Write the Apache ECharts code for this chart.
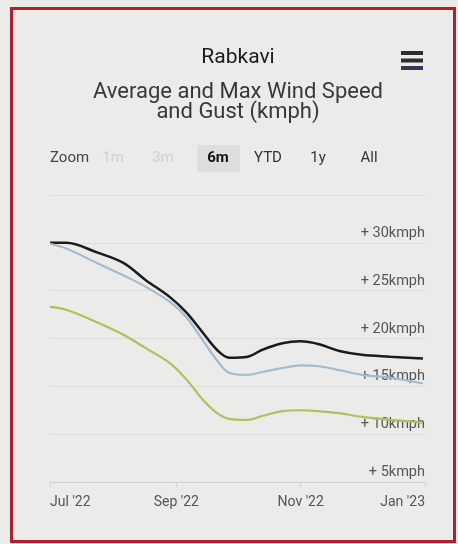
<!DOCTYPE html>
<html>
<head>
<meta charset="utf-8">
<script src="https://cdn.jsdelivr.net/npm/echarts@6/dist/echarts.min.js"></script>
<style>
html, body { margin: 0; padding: 0; background: #ebebe9; }
#chart { width: 458px; height: 544px; }
</style>
</head>
<body>
<div id="chart"></div>
<script>
var dates = ['2022-07-01', '2022-07-09', '2022-07-24', '2022-08-06', '2022-08-17', '2022-08-29',
	'2022-09-06', '2022-09-14', '2022-09-21', '2022-09-27', '2022-10-06', '2022-10-13',
	'2022-10-23', '2022-11-01', '2022-11-10', '2022-11-20', '2022-12-01', '2022-12-15', '2022-12-31'];
var maxGust = [30.0, 30.0, 29.0, 27.9, 26.1, 24.3, 22.7, 20.6, 18.8, 18.0, 18.1, 18.8, 19.5, 19.7, 19.4, 18.7, 18.3, 18.1, 17.9];
var maxWind = [29.9, 29.4, 27.9, 26.6, 25.4, 23.8, 22.2, 19.8, 17.7, 16.4, 16.2, 16.5, 16.9, 17.2, 17.1, 16.7, 16.2, 15.9, 15.3];
var avgWind = [23.3, 23.0, 21.7, 20.4, 19.0, 17.4, 15.7, 13.6, 12.2, 11.6, 11.5, 11.9, 12.4, 12.5, 12.4, 12.2, 11.8, 11.5, 11.2];

var xTickDates = ['2022-07-01', '2022-09-01', '2022-11-01', '2023-01-01'];
var xTickLabels = ["Jul '22", "Sep '22", "Nov '22", "Jan '23"];
var zoomButtons = ['1m', '3m', '6m', 'YTD', '1y', 'All'];

function ts(s) {
	return echarts.number.parseDate(s).getTime();
}
var xTicks = xTickDates.map(ts);

function pairs(values) {
	return values.map(function(v, i) {
		return [ts(dates[i]), v];
	});
}

function line(name, data, color, width) {
	return {
		name: name,
		type: 'line',
		smooth: 0.35,
		showSymbol: false,
		data: pairs(data),
		lineStyle: { color: color, width: width },
		itemStyle: { color: color }
	};
}

// range selector row
var btnX = [113, 163, 218, 268, 318, 369];
var zoomRow = [{
	type: 'text', x: 50, y: 158,
	style: { text: 'Zoom', font: '15px Roboto', fill: '#444', verticalAlign: 'middle' }
}, {
	type: 'rect', shape: { x: 197, y: 145, width: 43, height: 27 },
	style: { fill: '#dededc' }
}];
zoomButtons.forEach(function(label, i) {
	var faded = i < 2;
	zoomRow.push({
		type: 'text', x: btnX[i], y: 158,
		style: {
			text: label,
			font: (i === 2 ? 'bold ' : '') + '15px Roboto',
			fill: faded ? '#d0d0ce' : (i === 2 ? '#111' : '#333'),
			align: 'center', verticalAlign: 'middle'
		}
	});
});

var chart = echarts.init(document.getElementById('chart'));
chart.setOption({
	backgroundColor: '#ebebe9',
	animation: false,
	title: [{
		text: 'Rabkavi',
		left: 233, top: 42, textAlign: 'center',
		textStyle: { fontFamily: 'Roboto', fontSize: 21, fontWeight: 'normal', color: '#1c1c1c' }
	}, {
		text: 'Average and Max Wind Speed\nand Gust (kmph)',
		left: 233, top: 77, textAlign: 'center',
		textStyle: { fontFamily: 'Roboto', fontSize: 22, fontWeight: 'normal', color: '#383838', lineHeight: 20 }
	}],
	graphic: [{
		type: 'rect', shape: { x: 11.5, y: 8.5, width: 443, height: 533 },
		style: { fill: null, stroke: '#b3202b', lineWidth: 3 }
	}, {
		type: 'rect', shape: { x: 401, y: 51, width: 22, height: 4 }, style: { fill: '#2c2c2c' }
	}, {
		type: 'rect', shape: { x: 401, y: 58.5, width: 22, height: 4 }, style: { fill: '#2c2c2c' }
	}, {
		type: 'rect', shape: { x: 401, y: 66, width: 22, height: 4 }, style: { fill: '#35355a' }
	}].concat(zoomRow),
	grid: { left: 50, right: 33, top: 195, bottom: 62 },
	xAxis: {
		type: 'value',
		min: xTicks[0],
		max: xTicks[xTicks.length - 1],
		axisLine: { lineStyle: { color: '#d2d2d0' } },
		axisTick: { show: true, customValues: xTicks, length: 5, lineStyle: { color: '#d2d2d0' } },
		splitLine: { show: false },
		axisLabel: {
			customValues: xTicks,
			alignMinLabel: 'left',
			alignMaxLabel: 'right',
			margin: 13,
			fontFamily: 'Roboto', fontSize: 14, color: '#555',
			formatter: function(v) {
				var i = xTicks.indexOf(v);
				return i >= 0 ? xTickLabels[i] : '';
			}
		}
	},
	yAxis: {
		type: 'value',
		position: 'right',
		min: 5, max: 35, interval: 5,
		axisLine: { show: false },
		axisTick: { show: false },
		splitLine: { lineStyle: { color: '#dcdcda', width: 1 } },
		axisLabel: {
			inside: true,
			margin: 0,
			verticalAlign: 'bottom',
			padding: [0, 0, 2, 0],
			fontFamily: 'Roboto', fontSize: 14.5, color: '#555',
			formatter: function(v) {
				return v >= 35 ? '' : '+ ' + v + 'kmph';
			}
		}
	},
	series: [
		line('Max Gust', maxGust, '#1b1b1b', 2.5),
		line('Max Wind Speed', maxWind, '#9fbcd2', 2.2),
		line('Average Wind Speed', avgWind, '#abc35a', 2.2)
	]
});
</script>
</body>
</html>
